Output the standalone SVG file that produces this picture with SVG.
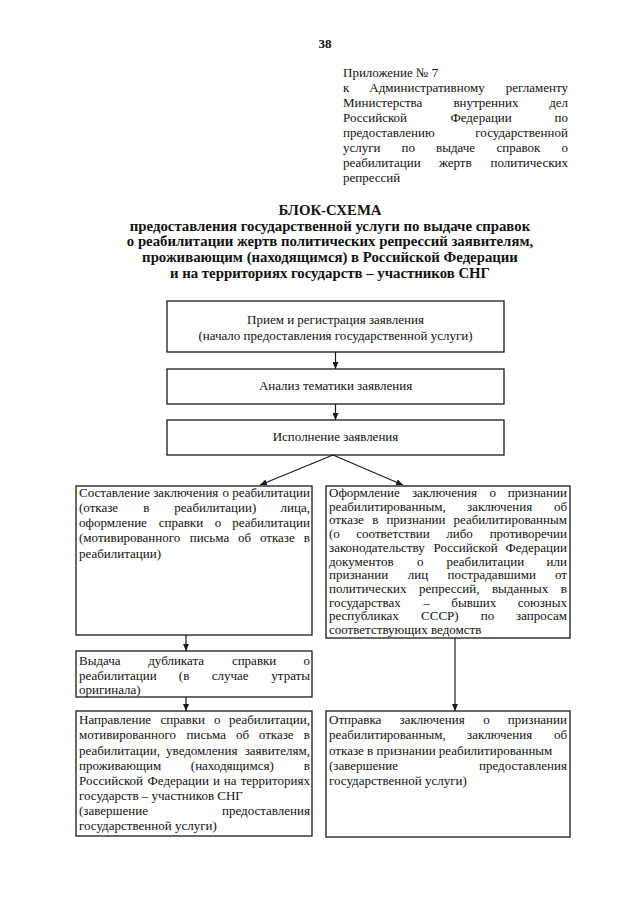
<svg xmlns="http://www.w3.org/2000/svg" width="640" height="905" viewBox="0 0 640 905">
<style>
text{font-family:"Liberation Serif","Times New Roman",serif;fill:#111;font-size:13px}
.b{font-weight:bold}
.h{font-size:14.8px;font-weight:bold;text-anchor:middle}
.c{text-anchor:middle}
.e{text-anchor:end}
.box{fill:none;stroke:#1a1a1a;stroke-width:1.3}
.ln{fill:none;stroke:#1a1a1a;stroke-width:1.2;marker-end:url(#ah)}
</style>
<defs>
<marker id="ah" markerWidth="7" markerHeight="6" refX="7" refY="3" orient="auto" markerUnits="userSpaceOnUse"><path d="M0,0 L7,3 L0,6 z" fill="#1a1a1a"/></marker>
</defs>
<rect width="640" height="905" fill="#fff"/>

<g id="page-number"><text class="b c" x="325" y="48">38</text></g>

<g id="annex-header">
<text x="343" y="77">Приложение № 7</text>
<text y="92"><tspan x="343">к</tspan><tspan x="369.3">Административному</tspan><tspan x="568" class="e">регламенту</tspan></text>
<text y="107"><tspan x="343">Министерства</tspan><tspan x="453.4">внутренних</tspan><tspan x="568" class="e">дел</tspan></text>
<text y="122"><tspan x="343">Российской</tspan><tspan x="450.4">Федерации</tspan><tspan x="568" class="e">по</tspan></text>
<text y="137"><tspan x="343">предоставлению</tspan><tspan x="568" class="e">государственной</tspan></text>
<text y="152"><tspan x="343">услуги</tspan><tspan x="401.6">по</tspan><tspan x="436.1">выдаче</tspan><tspan x="496.5">справок</tspan><tspan x="568" class="e">о</tspan></text>
<text y="167"><tspan x="343">реабилитации</tspan><tspan x="438.9">жертв</tspan><tspan x="568" class="e">политических</tspan></text>
<text x="343" y="182">репрессий</text>
</g>

<g id="title">
<text class="h" x="330" y="215">БЛОК-СХЕМА</text>
<text class="h" x="330" y="230.7">предоставления государственной услуги по выдаче справок</text>
<text class="h" x="330" y="246.3">о реабилитации жертв политических репрессий заявителям,</text>
<text class="h" x="330" y="262">проживающим (находящимся) в Российской Федерации</text>
<text class="h" x="330" y="277.5">и на территориях государств – участников СНГ</text>
</g>

<g id="connectors">
<line class="ln" x1="335.5" y1="352" x2="335.5" y2="369"/>
<line class="ln" x1="335.5" y1="404" x2="335.5" y2="420"/>
<line class="ln" x1="333" y1="455" x2="260" y2="485"/>
<line class="ln" x1="333" y1="455" x2="403" y2="485"/>
<line class="ln" x1="186" y1="635" x2="186" y2="651"/>
<line class="ln" x1="186" y1="697" x2="186" y2="711"/>
<line class="ln" x1="455" y1="638" x2="455" y2="711"/>
</g>

<g id="node-receive">
<rect class="box" x="167" y="301" width="337" height="51"/>
<text class="c" x="335.5" y="324">Прием и регистрация заявления</text>
<text class="c" x="335.5" y="340">(начало предоставления государственной услуги)</text>
</g>

<g id="node-analysis">
<rect class="box" x="167" y="369" width="337" height="35"/>
<text class="c" x="335.5" y="390">Анализ тематики заявления</text>
</g>

<g id="node-execution">
<rect class="box" x="167" y="420" width="337" height="35"/>
<text class="c" x="335.5" y="441">Исполнение заявления</text>
</g>

<g id="node-conclusion-rehab">
<rect class="box" x="76" y="486" width="236" height="149"/>
<text y="497"><tspan x="79">Составление</tspan><tspan x="153.2">заключения</tspan><tspan x="222.5">о</tspan><tspan x="310" class="e">реабилитации</tspan></text>
<text y="512"><tspan x="79">(отказе</tspan><tspan x="143.3">в</tspan><tspan x="174.2">реабилитации)</tspan><tspan x="310" class="e">лица,</tspan></text>
<text y="527"><tspan x="79">оформление</tspan><tspan x="158.7">справки</tspan><tspan x="214.7">о</tspan><tspan x="310" class="e">реабилитации</tspan></text>
<text y="542"><tspan x="79">(мотивированного</tspan><tspan x="189.7">письма</tspan><tspan x="238.1">об</tspan><tspan x="259.9">отказе</tspan><tspan x="310" class="e">в</tspan></text>
<text x="79" y="557.5">реабилитации)</text>
</g>

<g id="node-duplicate">
<rect class="box" x="76" y="651" width="236" height="46"/>
<text y="664.5"><tspan x="79">Выдача</tspan><tspan x="148.2">дубликата</tspan><tspan x="231.9">справки</tspan><tspan x="310" class="e">о</tspan></text>
<text y="679.5"><tspan x="79">реабилитации</tspan><tspan x="178.8">(в</tspan><tspan x="211.8">случае</tspan><tspan x="310" class="e">утраты</tspan></text>
<text x="79" y="694">оригинала)</text>
</g>

<g id="node-send-certificate">
<rect class="box" x="76" y="711" width="236" height="125"/>
<text y="724"><tspan x="79">Направление</tspan><tspan x="160.5">справки</tspan><tspan x="214">о</tspan><tspan x="310" class="e">реабилитации,</tspan></text>
<text y="739"><tspan x="79">мотивированного</tspan><tspan x="186.5">письма</tspan><tspan x="235.9">об</tspan><tspan x="258.8">отказе</tspan><tspan x="310" class="e">в</tspan></text>
<text y="754.5"><tspan x="79">реабилитации,</tspan><tspan x="166.1">уведомления</tspan><tspan x="310" class="e">заявителям,</tspan></text>
<text y="770"><tspan x="79">проживающим</tspan><tspan x="190.8">(находящимся)</tspan><tspan x="310" class="e">в</tspan></text>
<text y="785"><tspan x="79">Российской</tspan><tspan x="147.6">Федерации</tspan><tspan x="213">и</tspan><tspan x="223.8">на</tspan><tspan x="310" class="e">территориях</tspan></text>
<text x="79" y="800">государств – участников СНГ</text>
<text y="815"><tspan x="79">(завершение</tspan><tspan x="310" class="e">предоставления</tspan></text>
<text x="79" y="830">государственной услуги)</text>
</g>

<g id="node-conclusion-recognition">
<rect class="box" x="326" y="486" width="244" height="152"/>
<text y="497"><tspan x="329">Оформление</tspan><tspan x="411.9">заключения</tspan><tspan x="489.5">о</tspan><tspan x="567" class="e">признании</tspan></text>
<text y="510.7"><tspan x="329">реабилитированным,</tspan><tspan x="467">заключения</tspan><tspan x="567" class="e">об</tspan></text>
<text y="524.4"><tspan x="329">отказе</tspan><tspan x="372.2">в</tspan><tspan x="386.4">признании</tspan><tspan x="567" class="e">реабилитированным</tspan></text>
<text y="538.1"><tspan x="329">(о</tspan><tspan x="356.3">соответствии</tspan><tspan x="446.2">либо</tspan><tspan x="567" class="e">противоречии</tspan></text>
<text y="551.8"><tspan x="329">законодательству</tspan><tspan x="433.6">Российской</tspan><tspan x="567" class="e">Федерации</tspan></text>
<text y="565.5"><tspan x="329">документов</tspan><tspan x="417">о</tspan><tspan x="446.4">реабилитации</tspan><tspan x="567" class="e">или</tspan></text>
<text y="579.2"><tspan x="329">признании</tspan><tspan x="407.7">лиц</tspan><tspan x="447.6">пострадавшими</tspan><tspan x="567" class="e">от</tspan></text>
<text y="592.9"><tspan x="329">политических</tspan><tspan x="419">репрессий,</tspan><tspan x="491.9">выданных</tspan><tspan x="567" class="e">в</tspan></text>
<text y="606.6"><tspan x="329">государствах</tspan><tspan x="423.3">–</tspan><tspan x="451.3">бывших</tspan><tspan x="567" class="e">союзных</tspan></text>
<text y="620.3"><tspan x="329">республиках</tspan><tspan x="421.1">СССР)</tspan><tspan x="480.8">по</tspan><tspan x="567" class="e">запросам</tspan></text>
<text x="329" y="634">соответствующих ведомств</text>
</g>

<g id="node-send-conclusion">
<rect class="box" x="326" y="711" width="244" height="126"/>
<text y="724"><tspan x="329">Отправка</tspan><tspan x="399.6">заключения</tspan><tspan x="483.3">о</tspan><tspan x="567" class="e">признании</tspan></text>
<text y="739"><tspan x="329">реабилитированным,</tspan><tspan x="467">заключения</tspan><tspan x="567" class="e">об</tspan></text>
<text x="329" y="755">отказе в признании реабилитированным</text>
<text y="770"><tspan x="329">(завершение</tspan><tspan x="567" class="e">предоставления</tspan></text>
<text x="329" y="785">государственной услуги)</text>
</g>
</svg>
